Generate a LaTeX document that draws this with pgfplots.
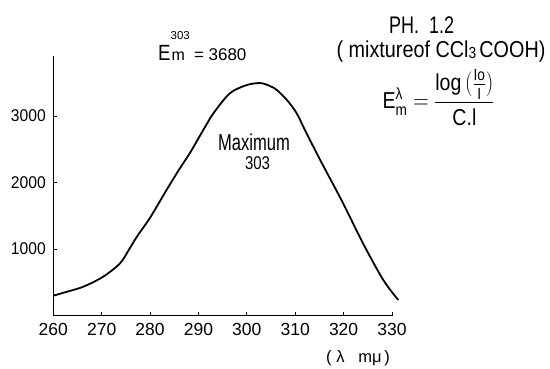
\documentclass[border=0pt]{standalone}
\usepackage{pgfplots}
\pgfplotsset{compat=1.18}
\usepackage{amsmath}
\usepackage{fontspec}
\setmainfont{Liberation Sans}
\newcommand\sx[1]{\scalebox{0.92}[1]{#1}}
\begin{document}
\begin{tikzpicture}[x=1pt,y=1pt]
\path[use as bounding box] (0,0) rectangle (550,368);
\begin{axis}[
  at={(53.3pt,52.5pt)}, anchor=origin,
  scale only axis, width=338.7pt, height=259.35pt,
  xmin=260, xmax=330, ymin=0, ymax=3900,
  axis lines=left, axis line style={-, line width=1.4pt},
  clip=false,
  xtick={260,270,...,330},
  xticklabels={260,270,280,290,300,310,320,330},
  ytick={1000,2000,3000},
  yticklabels={\sx{1000},\sx{2000},\sx{3000}},
  tick align=inside, major tick length=4pt,
  tick style={line width=1pt, black},
  xticklabel style={font=\fontsize{17.5}{19}\selectfont, yshift=-4pt},
  yticklabel style={font=\fontsize{17}{19}\selectfont, xshift=-4pt},
]
\addplot[smooth, tension=0.5, line width=1.8pt, black] coordinates {
(260.1,300) (262,340) (266.2,433) (270.3,583) (273.8,785) (275.8,1010)
(277.5,1210) (280,1470) (283.4,1887) (286,2195) (288.2,2439) (290.6,2740)
(293.1,3041) (296.5,3342) (300,3466) (302.8,3495) (304.8,3450) (306.2,3391)
(308.3,3240) (310.3,3041) (312,2789) (314.3,2460) (315.8,2250) (319.9,1687)
(324,1086) (328.2,534) (331.3,233)
};
\end{axis}
\node[font=\fontsize{24}{26}\selectfont] at (421.7,343) {\scalebox{0.75}[1]{PH.\ \ 1.2}};
\node[anchor=base,font=\fontsize{23}{25}\selectfont,inner sep=0pt] at (441,311) {\scalebox{0.86}[1]{( mixtureof CCl\raisebox{-0.1ex}{\fontsize{16}{17}\selectfont 3}\,COOH)}};
\node[font=\fontsize{23}{25}\selectfont,inner sep=0pt] at (438.5,270) {\scalebox{0.85}[1]{$\text{E}^{\text{λ}}_{\text{m}}=\dfrac{\text{log}\,(\frac{\text{Io}}{\text{I}})}{\text{C.l}}$}};
\node[anchor=base west,font=\fontsize{22}{24}\selectfont,inner sep=0pt] at (158,307.3) {\scalebox{0.85}[1]{E}\rlap{\raisebox{21pt}{\fontsize{11.5}{12}\selectfont 303}}\hspace{1pt}{\fontsize{16}{17}\selectfont m}\hspace{9pt}{\fontsize{17}{18}\selectfont = 3680}};
\node[font=\fontsize{23}{25}\selectfont] at (254,225.5) {\scalebox{0.72}[1]{Maximum}};
\node[font=\fontsize{18.5}{20}\selectfont] at (257.5,204.7) {\scalebox{0.81}[1]{303}};
\node[anchor=south,font=\fontsize{16.5}{18}\selectfont,inner sep=1pt] at (358,0.5) {( λ\ \ \ mμ\,)};
\end{tikzpicture}
\end{document}
